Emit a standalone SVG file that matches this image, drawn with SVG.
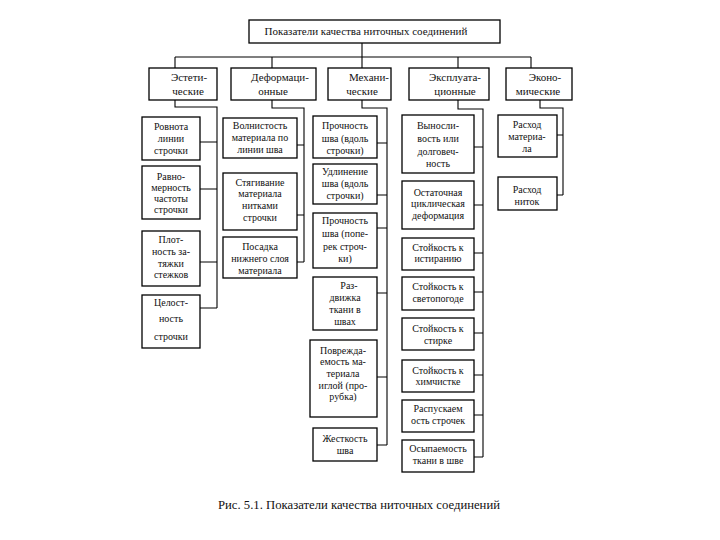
<svg xmlns="http://www.w3.org/2000/svg" width="720" height="540" viewBox="0 0 720 540">
<style>
.b{fill:#fff;stroke:#000;stroke-width:1.3}
.t{font-family:"Liberation Serif","Times New Roman",serif;font-size:10px;text-anchor:middle;fill:#111}
.c{font-size:11px}
.l{fill:none;stroke:#000;stroke-width:1.1}
</style>
<rect width="720" height="540" fill="#fff"/>
<g id="connectors" class="l">
<path d="M362 43V68M175 57H531M175 57V68M272 57V68M458 57V68M531 57V68"/>
<path d="M175 100V107H217V308M200 142H217M200 189H217M200 262H217M200 308H217"/>
<path d="M272 100V108H304V262M297 145H304M297 215H304M297 262H304"/>
<path d="M362 100V108H387V445M377 143H387M377 195H387M377 228H387M377 293H387M377 377H387M377 445H387"/>
<path d="M458 100V109H483V457M474 147H483M474 205H483M474 253H483M474 292H483M474 333H483M474 375H483M474 415H483M474 457H483"/>
<path d="M540 100V108H563V195M557 135H563M557 195H563"/>
</g>
<g id="title"><rect class="b" x="249" y="20" width="251" height="23"/><text class="t c" x="366" y="35">Показатели качества ниточных соединений</text></g>
<g id="cat1"><rect class="b" x="149" y="68" width="68" height="32"/><text class="t c" x="189" y="81">Эстети-</text><text class="t c" x="188" y="95">ческие</text></g>
<g id="cat2"><rect class="b" x="231" y="68" width="85" height="32"/><text class="t c" x="280" y="81">Деформаци-</text><text class="t c" x="273" y="95">онные</text></g>
<g id="cat3"><rect class="b" x="328" y="68" width="63" height="32"/><text class="t c" x="369" y="81">Механи-</text><text class="t c" x="362" y="95">ческие</text></g>
<g id="cat4"><rect class="b" x="409" y="68" width="80" height="32"/><text class="t c" x="455" y="81">Эксплуата-</text><text class="t c" x="455" y="95">ционные</text></g>
<g id="cat5"><rect class="b" x="506" y="68" width="66" height="32"/><text class="t c" x="545" y="81">Эконо-</text><text class="t c" x="538" y="95">мические</text></g>

<g id="n1a"><rect class="b" x="142" y="117" width="58" height="43"/><text class="t" x="171" y="129.5">Ровнота</text><text class="t" x="171" y="141.5">линии</text><text class="t" x="171" y="154">строчки</text></g>
<g id="n1b"><rect class="b" x="142" y="166" width="58" height="53"/><text class="t" x="171" y="180">Равно-</text><text class="t" x="171" y="191">мерность</text><text class="t" x="171" y="202">частоты</text><text class="t" x="171" y="213">строчки</text></g>
<g id="n1c"><rect class="b" x="142" y="231" width="58" height="55"/><text class="t" x="171" y="243">Плот-</text><text class="t" x="171" y="255">ность за-</text><text class="t" x="171" y="266.5">тяжки</text><text class="t" x="171" y="278">стежков</text></g>
<g id="n1d"><rect class="b" x="142" y="295" width="58" height="53"/><text class="t" x="171" y="305.5">Целост-</text><text class="t" x="171" y="322">ность</text><text class="t" x="171" y="340">строчки</text></g>

<g id="n2a"><rect class="b" x="223" y="118" width="74" height="40"/><text class="t" x="260" y="128.5">Волнистость</text><text class="t" x="260" y="141">материала по</text><text class="t" x="260" y="153">линии шва</text></g>
<g id="n2b"><rect class="b" x="223" y="173" width="74" height="57"/><text class="t" x="260" y="185.5">Стягивание</text><text class="t" x="260" y="197">материала</text><text class="t" x="260" y="209">нитками</text><text class="t" x="260" y="220.5">строчки</text></g>
<g id="n2c"><rect class="b" x="223" y="237" width="74" height="41"/><text class="t" x="260" y="249.5">Посадка</text><text class="t" x="260" y="261.5">нижнего слоя</text><text class="t" x="260" y="274">материала</text></g>

<g id="n3a"><rect class="b" x="313" y="116" width="64" height="42"/><text class="t" x="345" y="128.5">Прочность</text><text class="t" x="345" y="141.5">шва (вдоль</text><text class="t" x="345" y="153.5">строчки)</text></g>
<g id="n3b"><rect class="b" x="313" y="164" width="64" height="40"/><text class="t" x="345" y="175">Удлинение</text><text class="t" x="345" y="187">шва (вдоль</text><text class="t" x="345" y="199">строчки)</text></g>
<g id="n3c"><rect class="b" x="313" y="213" width="64" height="55"/><text class="t" x="345" y="223.5">Прочность</text><text class="t" x="345" y="236.5">шва (попе-</text><text class="t" x="345" y="249.5">рек строч-</text><text class="t" x="345" y="261.5">ки)</text></g>
<g id="n3d"><rect class="b" x="313" y="277" width="64" height="53"/><text class="t" x="349" y="288.5">Раз-</text><text class="t" x="345" y="301">движка</text><text class="t" x="345" y="313">ткани в</text><text class="t" x="345" y="325">швах</text></g>
<g id="n3e"><rect class="b" x="310" y="340" width="67" height="77"/><text class="t" x="343" y="353.5">Поврежда-</text><text class="t" x="343" y="365">емость ма-</text><text class="t" x="343" y="377">териала</text><text class="t" x="343" y="388.5">иглой (про-</text><text class="t" x="343" y="400">рубка)</text></g>
<g id="n3f"><rect class="b" x="313" y="428" width="64" height="33"/><text class="t" x="345" y="441.5">Жесткость</text><text class="t" x="345" y="453.5">шва</text></g>

<g id="n4a"><rect class="b" x="402" y="115" width="72" height="58"/><text class="t" x="438" y="128.5">Выносли-</text><text class="t" x="438" y="141.5">вость или</text><text class="t" x="438" y="155">долговеч-</text><text class="t" x="438" y="166.5">ность</text></g>
<g id="n4b"><rect class="b" x="402" y="181" width="72" height="48"/><text class="t" x="438" y="195.5">Остаточная</text><text class="t" x="438" y="207">циклическая</text><text class="t" x="438" y="218.5">деформация</text></g>
<g id="n4c"><rect class="b" x="402" y="238" width="72" height="32"/><text class="t" x="438" y="250.5">Стойкость к</text><text class="t" x="438" y="261.5">истиранию</text></g>
<g id="n4d"><rect class="b" x="402" y="277" width="72" height="33"/><text class="t" x="438" y="289.5">Стойкость к</text><text class="t" x="438" y="301.5">светопогоде</text></g>
<g id="n4e"><rect class="b" x="402" y="318" width="72" height="32"/><text class="t" x="438" y="331.5">Стойкость к</text><text class="t" x="438" y="343.5">стирке</text></g>
<g id="n4f"><rect class="b" x="402" y="360" width="72" height="32"/><text class="t" x="438" y="373.5">Стойкость к</text><text class="t" x="438" y="384.5">химчистке</text></g>
<g id="n4g"><rect class="b" x="402" y="400" width="72" height="32"/><text class="t" x="438" y="411.5">Распускаем</text><text class="t" x="438" y="423.5">ость строчек</text></g>
<g id="n4h"><rect class="b" x="402" y="440" width="72" height="32"/><text class="t" x="438" y="451.5">Осыпаемость</text><text class="t" x="438" y="463.5">ткани в шве</text></g>

<g id="n5a"><rect class="b" x="498" y="115" width="59" height="42"/><text class="t" x="527" y="128">Расход</text><text class="t" x="527" y="140">материа-</text><text class="t" x="527" y="152">ла</text></g>
<g id="n5b"><rect class="b" x="498" y="177" width="59" height="33"/><text class="t" x="527" y="193">Расход</text><text class="t" x="527" y="205">ниток</text></g>

<text class="t" style="font-size:12.7px" x="359" y="509">Рис. 5.1. Показатели качества ниточных соединений</text>
</svg>
